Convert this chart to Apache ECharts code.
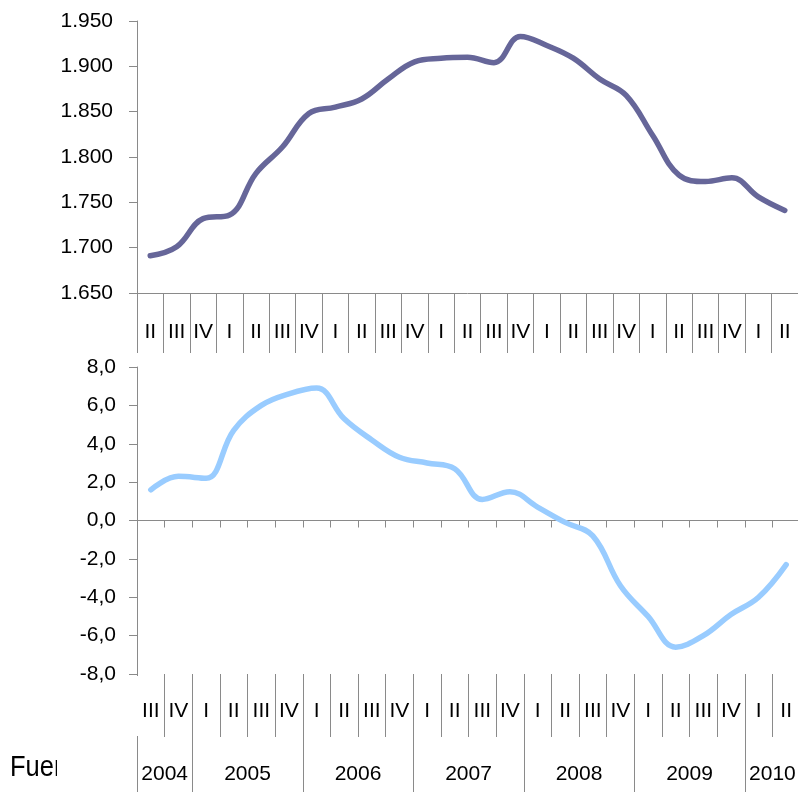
<!DOCTYPE html>
<html>
<head>
<meta charset="utf-8">
<title></title>
<script src="https://cdn.jsdelivr.net/npm/echarts@6/dist/echarts.min.js"></script>
<style>
  html, body { margin: 0; padding: 0; background: #fff; }
  #main { width: 798px; height: 792px; }
</style>
</head>
<body>
<div id="main"></div>
<script>
  // top panel: 2004 II .. 2010 II (thousands)
  var quartersTop = ['II','III','IV','I','II','III','IV','I','II','III','IV','I','II','III','IV','I','II','III','IV','I','II','III','IV','I','II'];
  var valuesTop = [1691,1701,1732,1736,1782,1811,1848,1855,1864,1886,1905,1909,1910,1904,1933,1923,1909,1886,1868,1824,1780,1773,1777,1756,1741];

  // bottom panel: 2004 III .. 2010 II (% change)
  var quartersBottom = ['III','IV','I','II','III','IV','I','II','III','IV','I','II','III','IV','I','II','III','IV','I','II','III','IV','I','II'];
  var valuesBottom = [1.6,2.3,2.2,4.7,6.0,6.6,6.9,5.3,4.2,3.3,3.0,2.7,1.1,1.5,0.7,-0.1,-0.8,-3.4,-5.0,-6.6,-6.0,-4.9,-4.0,-2.3];

  var years = ['2004','2005','2006','2007','2008','2009','2010'];
  var yearSpans = [2,4,4,4,4,4,2];

  // year row: points on quarter boundaries, label in the middle of each year
  var yearPoints = [];
  var yearBounds = [0];
  for (var i = 0; i <= quartersBottom.length; i++) yearPoints.push('');
  var acc = 0;
  yearSpans.forEach(function (s, k) {
    yearPoints[acc + s / 2] = years[k];
    acc += s;
    if (acc < quartersBottom.length) yearBounds.push(acc);
  });

  var grey = '#8a8a8a';
  var font = 'Liberation Sans';
  var txt = { color: '#000', fontFamily: font, fontSize: 21 };

  var myChart = echarts.init(document.getElementById('main'));
  myChart.setOption({
    animation: false,
    grid: [
      { left: 137, width: 661, top: 21, height: 272, outerBoundsMode: 'none' },
      { left: 137, width: 663, top: 367, height: 307, outerBoundsMode: 'none' }
    ],
    xAxis: [
      {
        gridIndex: 0, type: 'category', data: quartersTop, position: 'bottom',
        axisLine: { onZero: false, lineStyle: { color: grey } },
        axisTick: { show: true, length: 60, interval: 0, lineStyle: { color: grey } },
        axisLabel: Object.assign({ interval: 0, margin: 29 }, txt)
      },
      {
        gridIndex: 1, type: 'category', data: quartersBottom, position: 'bottom',
        axisLine: { onZero: true, lineStyle: { color: grey } },
        axisTick: { show: true, length: 7, interval: 0, lineStyle: { color: grey } },
        axisLabel: { show: false }
      },
      {
        gridIndex: 1, type: 'category', data: quartersBottom, position: 'bottom',
        axisLine: { show: false, onZero: false },
        axisTick: { show: true, length: 63, interval: 0, lineStyle: { color: grey } },
        axisLabel: Object.assign({ interval: 0, margin: 27 }, txt)
      },
      {
        gridIndex: 1, type: 'category', data: yearPoints, position: 'bottom', offset: 63,
        boundaryGap: false,
        axisLine: { show: false, onZero: false },
        axisTick: {
          show: true,
          length: 60,
          interval: function (idx) { return yearBounds.indexOf(idx) >= 0; },
          lineStyle: { color: grey }
        },
        axisLabel: Object.assign({ interval: 0, margin: 27 }, txt)
      }
    ],
    yAxis: [
      {
        gridIndex: 0, type: 'value', min: 1650, max: 1950, interval: 50,
        splitLine: { show: false },
        axisLine: { show: true, lineStyle: { color: grey } },
        axisTick: { show: true, length: 8, lineStyle: { color: grey } },
        axisLabel: Object.assign({
          margin: 24,
          formatter: function (v) { return (v / 1000).toFixed(3); }
        }, txt)
      },
      {
        gridIndex: 1, type: 'value', min: -8, max: 8, interval: 2,
        splitLine: { show: false },
        axisLine: { show: true, lineStyle: { color: grey } },
        axisTick: { show: true, length: 8, lineStyle: { color: grey } },
        axisLabel: Object.assign({
          margin: 21,
          formatter: function (v) { return v.toFixed(1).replace('.', ','); }
        }, txt)
      }
    ],
    series: [
      {
        type: 'line', xAxisIndex: 0, yAxisIndex: 0, data: valuesTop,
        smooth: 0.4, symbol: 'none',
        lineStyle: { color: '#666699', width: 5.5, cap: 'round' }
      },
      {
        type: 'line', xAxisIndex: 1, yAxisIndex: 1, data: valuesBottom,
        smooth: 0.4, symbol: 'none',
        lineStyle: { color: '#99ccff', width: 5.5, cap: 'round' }
      }
    ],
    graphic: [
      {
        type: 'text', left: 10, top: 753, z: 10, scaleX: 0.85,
        style: { text: 'Fuente', fill: '#000', font: '30px "Liberation Sans"' }
      },
      {
        // the source note is cut off in the original picture
        type: 'rect', left: 57, top: 745, z: 11,
        shape: { width: 78, height: 47 },
        style: { fill: '#fff' }
      },
      {
        // no separator left of the first quarter label in the bottom panel
        type: 'rect', left: 135, top: 676, z: 11,
        shape: { width: 4, height: 60 },
        style: { fill: '#fff' }
      }
    ]
  });

  window.addEventListener('resize', function () {
    myChart.resize();
  });
</script>
</body>
</html>
